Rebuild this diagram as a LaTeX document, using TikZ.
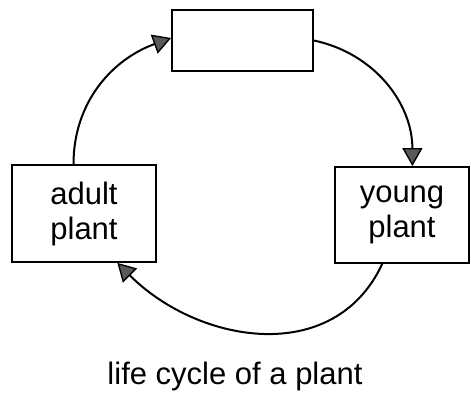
\documentclass[tikz,border=0pt]{standalone}
\usepackage{fontspec}
\setmainfont{Liberation Sans}
\usetikzlibrary{arrows.meta, positioning}

\begin{document}
\begin{tikzpicture}[
  x=0.5pt, y=-0.5pt,
  font=\fontsize{15.5}{17.5}\selectfont,
  stage/.style={rectangle, draw, line width=0.9pt, inner sep=0pt, align=center},
  cyc/.style={line width=1pt, -{Triangle[length=9pt, width=10pt, fill=black!65, line width=0.7pt]}}
]
\useasboundingbox (0,0) rectangle (471,395);
% -------------------------------------------------------------------------
% STAGES
% -------------------------------------------------------------------------
\node[stage, minimum width=70.5pt, minimum height=30.5pt] (blank) at (242.5,40.5) {};
\node[stage, minimum width=72pt, minimum height=48.5pt] (adult) at (84,213.5) {adult\\plant};
\node[stage, minimum width=67pt, minimum height=48pt] (young) at (402,215) {young\\plant};
\node (caption) at (235,376) {life cycle of a plant};
% -------------------------------------------------------------------------
% CYCLE ARROWS
% -------------------------------------------------------------------------
\draw[cyc] (blank.east) to[out=-12, in=90] (young.78);
\draw[cyc] (young.248) to[out=-115, in=-45, looseness=1.1] (adult.-56);
\draw[cyc] (adult.102) to[out=90, in=200] (blank.178);
\end{tikzpicture}
\end{document}
